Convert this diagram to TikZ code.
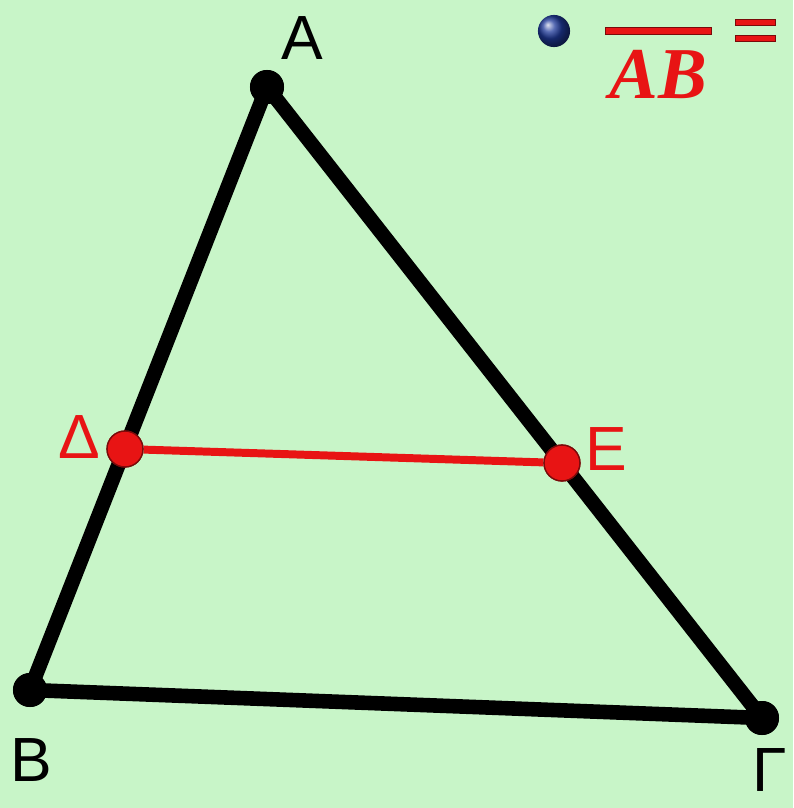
\documentclass[tikz,border=0pt]{standalone}
\usepackage{fontspec}
\setmainfont{Liberation Sans}
\newfontfamily\ratiofont{Liberation Serif}
\usetikzlibrary{positioning,calc}
\definecolor{paleground}{HTML}{C8F5C8}
\definecolor{segred}{HTML}{E81414}
\definecolor{dotedge}{HTML}{7A0A0A}
\definecolor{ballblue}{HTML}{1F3A9A}
\tikzset{
  vertexdot/.style={circle, fill=black, inner sep=0pt, minimum size=0.9cm},
  middot/.style={circle, fill=segred, draw=dotedge, line width=1pt, inner sep=0pt, minimum size=0.95cm},
  side/.style={line width=11pt, line cap=round, black},
  midseg/.style={line width=6pt, segred},
  vlabel/.style={font=\fontsize{47}{50}\selectfont, inner sep=0pt},
  rlabel/.style={vlabel, text=segred},
  eqbar/.style={inner sep=0pt, fill=segred, draw=dotedge, line width=0.4pt}
}
\begin{document}
\begin{tikzpicture}[x=0.0264583cm, y=-0.0264583cm]
  \fill[paleground] (0,0) rectangle (793,808);
  \useasboundingbox (0,0) rectangle (793,808);
  % triangle
  \node[vertexdot] (A) at (267,87) {};
  \node[vertexdot] (B) at (30,690) {};
  \node[vertexdot] (G) at (762,718) {};
  \draw[side] (A.center) -- (B.center) -- (G.center) -- cycle;
  % segment DE
  \node[middot] (D) at (125,449) {};
  \node[middot] (E) at (562,463) {};
  \draw[midseg] (D) -- (E);
  \node[middot] at (D) {};
  \node[middot] at (E) {};
  \node[vertexdot] at (A) {};
  \node[vertexdot] at (B) {};
  \node[vertexdot] at (G) {};
  % labels
  \node[vlabel] (lA) at (302,38) {A};
  \node[vlabel] (lB) at (31,760) {B};
  \node[vlabel, anchor=west] (lG) at (752,770) {Γ};
  \node[rlabel] (lD) at (79,437) {Δ};
  \node[rlabel] (lE) at (606,449) {E};
  % ratio in the corner
  \node[circle, inner sep=0pt, minimum size=0.85cm, ball color=ballblue] (ball) at (554,31) {};
  \node[eqbar, minimum width=2.8cm, minimum height=5pt] (bar) at (658,31) {};
  \node[inner sep=0pt, below=0.4cm of bar, text=segred, font=\fontsize{55}{58}\selectfont\ratiofont\bfseries\itshape] (den) {AB};
  \node[eqbar, minimum width=1.05cm, minimum height=4.5pt] (eqa) at (755,22) {};
  \node[eqbar, minimum width=1.05cm, minimum height=4.5pt] (eqb) at (755,38) {};
\end{tikzpicture}
\end{document}
